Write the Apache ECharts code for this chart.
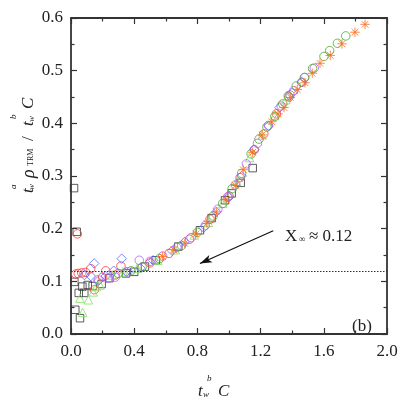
<!DOCTYPE html>
<html>
<head>
<meta charset="utf-8">
<script src="https://cdn.jsdelivr.net/npm/echarts@6/dist/echarts.min.js"></script>
<style>html,body{margin:0;padding:0;background:#fff}#c{width:409px;height:398px}</style>
</head>
<body>
<div id="c"></div>
<script>
var xTickLabels = ['0.0','0.4','0.8','1.2','1.6','2.0'];
var yTickLabels = ['0.0','0.1','0.2','0.3','0.4','0.5','0.6'];

var squares = [[0.019,0.277],[0.036,0.194],[0.021,0.099],[0.027,0.046],[0.057,0.030],[0.049,0.078],[0.084,0.078],[0.072,0.090],[0.106,0.093],[0.137,0.091],[0.194,0.095],[0.243,0.106],[0.348,0.115],[0.40,0.118],[0.468,0.128],[0.536,0.140],[0.679,0.166],[0.816,0.197],[0.89,0.22],[0.975,0.254],[1.017,0.267],[1.074,0.287],[1.150,0.315]];
var redCircles = [[0.04,0.19],[0.030,0.114],[0.046,0.115],[0.068,0.116],[0.093,0.117],[0.125,0.124],[0.148,0.084],[0.20,0.108],[0.22,0.12],[0.28,0.112],[0.316,0.129],[0.50,0.135],[0.62,0.153],[0.75,0.18],[0.88,0.218],[1.0,0.262],[1.07,0.297],[1.16,0.35],[1.22,0.38],[1.30,0.418],[1.38,0.45],[1.46,0.478]];
var blueDiamonds = [[0.147,0.134],[0.125,0.110],[0.085,0.112],[0.17,0.10],[0.22,0.11],[0.27,0.12],[0.321,0.143],[0.35,0.118],[0.44,0.125],[0.52,0.14],[0.64,0.158],[0.72,0.175],[0.84,0.202],[0.92,0.232],[1.00,0.26],[1.08,0.30],[1.16,0.35],[1.25,0.395],[1.32,0.43],[1.40,0.458],[1.46,0.478]];
var greenTriangles = [[0.057,0.068],[0.11,0.065],[0.074,0.041],[0.141,0.080],[0.16,0.09],[0.184,0.093],[0.26,0.112],[0.33,0.118],[0.42,0.125],[0.55,0.14],[0.66,0.16],[0.78,0.188],[0.87,0.212],[0.96,0.248],[1.05,0.29],[1.13,0.335],[1.21,0.378],[1.29,0.415],[1.36,0.445]];
var violetCircles = [[0.173,0.103],[0.236,0.106],[0.28,0.108],[0.36,0.118],[0.432,0.140],[0.50,0.138],[0.58,0.148],[0.67,0.164],[0.76,0.183],[0.85,0.206],[0.93,0.237],[0.99,0.26],[1.04,0.283],[1.11,0.323],[1.18,0.362],[1.25,0.396],[1.33,0.433],[1.386,0.454],[1.41,0.462],[1.48,0.487],[1.54,0.505]];
var greenCircles = [[0.30,0.115],[0.38,0.12],[0.45,0.127],[0.56,0.143],[0.70,0.168],[0.80,0.193],[0.90,0.224],[0.96,0.248],[1.02,0.276],[1.08,0.305],[1.14,0.342],[1.19,0.37],[1.24,0.393],[1.29,0.413],[1.34,0.437],[1.375,0.452],[1.426,0.471],[1.477,0.487],[1.529,0.504],[1.601,0.527],[1.637,0.538],[1.686,0.552],[1.739,0.566]];
var orangeStars = [[0.58,0.147],[0.65,0.16],[0.72,0.172],[0.79,0.19],[0.86,0.21],[0.92,0.232],[0.98,0.255],[1.04,0.282],[1.09,0.312],[1.15,0.345],[1.21,0.378],[1.27,0.403],[1.31,0.418],[1.348,0.430],[1.388,0.449],[1.432,0.464],[1.481,0.477],[1.527,0.495],[1.576,0.514],[1.641,0.529],[1.715,0.551],[1.797,0.573],[1.861,0.588]];
var xInf = 0.12;
var arrowFrom = [1.28,0.196];
var arrowTo = [0.816,0.134];

var FONT = 'Liberation Serif';
var AX = '#333';

function sc(data, symbol, color, size, extra) {
  var s = {
    type: 'scatter', data: data, symbol: symbol, symbolSize: size,
    itemStyle: {color: 'transparent', borderColor: color, borderWidth: 1},
    emphasis: {disabled: true}, silent: true
  };
  if (extra) for (var k in extra) s[k] = extra[k];
  return s;
}

function baseAxis(pos, labels, isX, show) {
  return {
    type: 'value', position: pos, min: 0, max: isX ? 2 : 0.6, interval: isX ? 0.4 : 0.1,
    axisLine: {show: true, onZero: false, lineStyle: {color: AX, width: 1.8}},
    axisTick: {show: true, inside: true, length: 6, lineStyle: {color: AX, width: 1.2}},
    minorTick: {show: true, splitNumber: 2, length: 3.5, lineStyle: {color: AX, width: 1.2}},
    splitLine: {show: false},
    axisLabel: {show: show, fontFamily: FONT, fontSize: 17, color: '#222', margin: isX ? 9 : 8,
      formatter: function (v) { return labels[Math.round(v / (isX ? 0.4 : 0.1))]; }}
  };
}

var chart = echarts.init(document.getElementById('c'), null, {renderer: 'canvas'});
chart.setOption({
  animation: false,
  backgroundColor: '#fff',
  grid: {left: 71, right: 22, top: 18, bottom: 64, containLabel: false},
  xAxis: [baseAxis('bottom', xTickLabels, true, true), baseAxis('top', xTickLabels, true, false)],
  yAxis: [baseAxis('left', yTickLabels, false, true), baseAxis('right', yTickLabels, false, false)],
  series: [
    sc(squares, 'rect', '#333333', 7.5, {markLine: {
      silent: true, animation: false, label: {show: false}, symbol: 'none',
      data: [
        [{coord: [0, xInf], lineStyle: {type: [1.5, 1.5], color: '#333', width: 1}}, {coord: [2, xInf]}],
        [{coord: arrowFrom, symbol: 'none', lineStyle: {type: 'solid', color: '#111', width: 1.2}}, {coord: arrowTo, symbol: 'arrow', symbolSize: [6, 12]}]
      ]
    }}),
    sc(redCircles, 'circle', '#ff3b3b', 8.5),
    sc(blueDiamonds, 'diamond', '#5a66ff', 9.5),
    sc(greenTriangles, 'triangle', '#86e066', 8.5),
    sc(violetCircles, 'circle', '#b060ff', 8.5),
    sc(greenCircles, 'circle', '#4caa2c', 8.5),
    sc(orangeStars, 'path://M5,0L5,10M0,5L10,5M1.5,1.5L8.5,8.5M1.5,8.5L8.5,1.5', '#ff6a1a', 9.5)
  ],
  graphic: [
    {type: 'group', x: 20, y: 193, rotation: Math.PI / 2, silent: true, children: [
      {type: 'text', x: 0, y: 0, style: {text: 't', font: 'italic 17px ' + FONT, fill: '#222', verticalAlign: 'alphabetic'}},
      {type: 'text', x: 4, y: -11, style: {text: 'a', font: 'italic 9px ' + FONT, fill: '#222', verticalAlign: 'alphabetic'}},
      {type: 'text', x: 3, y: 7, style: {text: 'w', font: 'italic 9px ' + FONT, fill: '#222', verticalAlign: 'alphabetic'}},
      {type: 'text', x: 15, y: 0, style: {text: 'ρ', font: 'italic 18px ' + FONT, fill: '#222', verticalAlign: 'alphabetic'}},
      {type: 'text', x: 27, y: 7, style: {text: 'TRM', font: '8px ' + FONT, fill: '#222', verticalAlign: 'alphabetic'}},
      {type: 'text', x: 52, y: 0, style: {text: '/', font: '17px ' + FONT, fill: '#222', verticalAlign: 'alphabetic'}},
      {type: 'text', x: 67, y: 0, style: {text: 't', font: 'italic 17px ' + FONT, fill: '#222', verticalAlign: 'alphabetic'}},
      {type: 'text', x: 74, y: -11, style: {text: 'b', font: 'italic 9px ' + FONT, fill: '#222', verticalAlign: 'alphabetic'}},
      {type: 'text', x: 71, y: 7, style: {text: 'w', font: 'italic 9px ' + FONT, fill: '#222', verticalAlign: 'alphabetic'}},
      {type: 'text', x: 84, y: 0, style: {text: 'C', font: 'italic 17px ' + FONT, fill: '#222', verticalAlign: 'alphabetic'}}
    ]},
    {type: 'group', x: 198, y: 383, silent: true, children: [
      {type: 'text', x: 0, y: 0, style: {text: 't', font: 'italic 17px ' + FONT, fill: '#222', verticalAlign: 'alphabetic'}},
      {type: 'text', x: 5, y: 7, style: {text: 'w', font: 'italic 9px ' + FONT, fill: '#222', verticalAlign: 'alphabetic'}},
      {type: 'text', x: 9, y: -9, style: {text: 'b', font: 'italic 9px ' + FONT, fill: '#222', verticalAlign: 'alphabetic'}},
      {type: 'text', x: 20, y: 0, style: {text: 'C', font: 'italic 17px ' + FONT, fill: '#222', verticalAlign: 'alphabetic'}}
    ]},
    {type: 'group', x: 285, y: 228, silent: true, children: [
      {type: 'text', x: 0, y: 0, style: {text: 'X', font: '17px ' + FONT, fill: '#222', verticalAlign: 'alphabetic'}},
      {type: 'text', x: 14, y: 7, style: {text: '∞', font: '9px ' + FONT, fill: '#222', verticalAlign: 'alphabetic'}},
      {type: 'text', x: 24, y: 0, style: {text: '≈ 0.12', font: '17px ' + FONT, fill: '#222', verticalAlign: 'alphabetic'}}
    ]},
    {type: 'text', x: 352, y: 318, silent: true, style: {text: '(b)', font: '17px ' + FONT, fill: '#222', verticalAlign: 'alphabetic'}}
  ]
});
</script>
</body>
</html>
